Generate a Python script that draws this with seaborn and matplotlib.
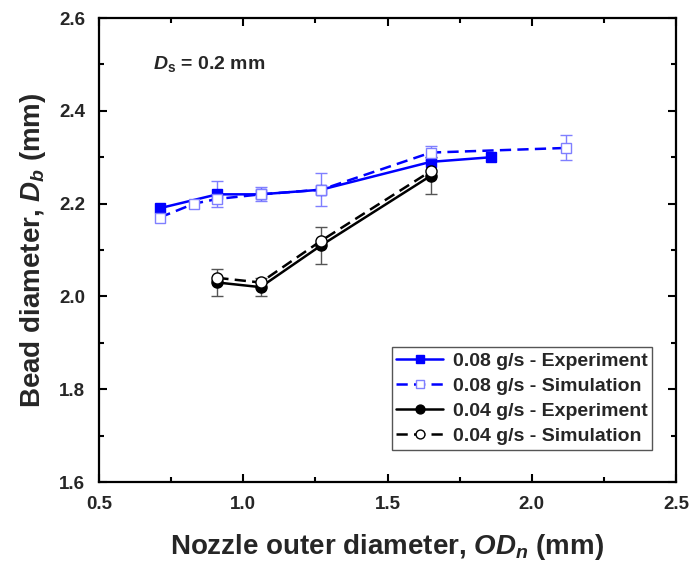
import matplotlib
matplotlib.use("Agg")
import matplotlib.pyplot as plt
import seaborn as sns
import pandas as pd
from matplotlib.ticker import MultipleLocator

# Data
x_b_exp = [0.71, 0.91, 1.06, 1.27, 1.65, 1.86]
y_b_exp = [2.19, 2.22, 2.22, 2.23, 2.29, 2.30]
e_b_exp = [0.0, 0.028, 0.0, 0.0, 0.0, 0.0]

x_b_sim = [0.71, 0.83, 0.91, 1.06, 1.27, 1.65, 2.12]
y_b_sim = [2.17, 2.20, 2.21, 2.22, 2.23, 2.31, 2.32]
e_b_sim = [0.0, 0.0, 0.0, 0.015, 0.036, 0.015, 0.027]

x_k_exp = [0.91, 1.06, 1.27, 1.65]
y_k_exp = [2.03, 2.02, 2.11, 2.26]
e_k_exp = [0.03, 0.02, 0.04, 0.04]

x_k_sim = [0.91, 1.06, 1.27, 1.65]
y_k_sim = [2.04, 2.03, 2.12, 2.27]
e_k_sim = [0.0, 0.0, 0.0, 0.0]

labels = ["0.08 g/s - Experiment", "0.08 g/s - Simulation",
          "0.04 g/s - Experiment", "0.04 g/s - Simulation"]

sns.set_theme(style="ticks")
plt.rcParams['font.family'] = ['Liberation Sans', 'DejaVu Sans']
plt.rcParams['mathtext.fontset'] = 'custom'
plt.rcParams['mathtext.rm'] = 'Liberation Sans:bold'
plt.rcParams['mathtext.it'] = 'Liberation Sans:bold:italic'
plt.rcParams['mathtext.bf'] = 'Liberation Sans:bold'

fig = plt.figure(figsize=(6.91, 5.65), dpi=100)
ax = fig.add_axes([0.1433, 0.1469, 0.8350, 0.8212])

series = [
    (x_b_exp, y_b_exp, e_b_exp, "blue", "s", "blue", "-", "#7f7fff", 7),
    (x_b_sim, y_b_sim, e_b_sim, "blue", "s", "white", "--", "#7f7fff", 7.5),
    (x_k_exp, y_k_exp, e_k_exp, "black", "o", "black", "-", "#555555", 8),
    (x_k_sim, y_k_sim, e_k_sim, "black", "o", "white", "--", "#555555", 8),
]

for (xs, ys, es, col, mk, mfc, ls, ecol, ms), lab in zip(series, labels):
    xe = [x for x, e in zip(xs, es) if e > 0]
    ye = [y for y, e in zip(ys, es) if e > 0]
    ee = [e for e in es if e > 0]
    if xe:
        ax.errorbar(xe, ye, yerr=ee, fmt="none", ecolor=ecol, elinewidth=1.0,
                    capsize=4, capthick=1.0, zorder=2)
    df = pd.DataFrame({"x": xs, "y": ys})
    mec = col if mfc != "white" else (ecol if col == "blue" else "black")
    sns.lineplot(data=df, x="x", y="y", ax=ax, color=col,
                 linewidth=1.8, marker=mk, markersize=ms,
                 markerfacecolor=mfc, markeredgecolor=mec,
                 markeredgewidth=1.0, label=lab, zorder=3,
                 estimator=None, sort=False)
    ln = ax.get_lines()[-1]
    if ls == "--":
        ln.set_dashes((4.5, 2.5))

ax.set_xlim(0.5, 2.5)
ax.set_ylim(1.6, 2.6)
ax.xaxis.set_major_locator(MultipleLocator(0.5))
ax.xaxis.set_minor_locator(MultipleLocator(0.25))
ax.yaxis.set_major_locator(MultipleLocator(0.2))
ax.yaxis.set_minor_locator(MultipleLocator(0.1))
ax.tick_params(which="both", direction="in", top=True, right=True, width=1.5, color="black")
ax.tick_params(which="major", length=6, labelsize=13.5, pad=10)
ax.tick_params(which="minor", length=3.5)
for lbl in ax.get_xticklabels() + ax.get_yticklabels():
    lbl.set_fontweight("bold")
for s in ax.spines.values():
    s.set_linewidth(1.6)
    s.set_color("black")

ax.set_xlabel(r"Nozzle outer diameter, $\mathit{OD_n}$ (mm)", fontsize=20, fontweight="bold", labelpad=14)
ax.set_ylabel(r"Bead diameter, $\mathit{D_b}$ (mm)", fontsize=20, fontweight="bold", labelpad=8)

ax.text(0.093, 0.90, r"$\mathit{D}_{\mathrm{s}}$ = 0.2 mm", transform=ax.transAxes,
        fontsize=14, fontweight="bold", va="center", ha="left")

leg = ax.legend(loc="upper left", bbox_to_anchor=(0.507, 0.290), frameon=True,
                fancybox=False, edgecolor="#555555", framealpha=1,
                prop={"weight": "bold", "size": 14}, handlelength=2.4,
                handletextpad=0.5, labelspacing=0.38, borderpad=0.25,
                borderaxespad=0, markerscale=0.8)
leg.get_frame().set_linewidth(1.0)

fig.savefig("out.png", dpi=100)
